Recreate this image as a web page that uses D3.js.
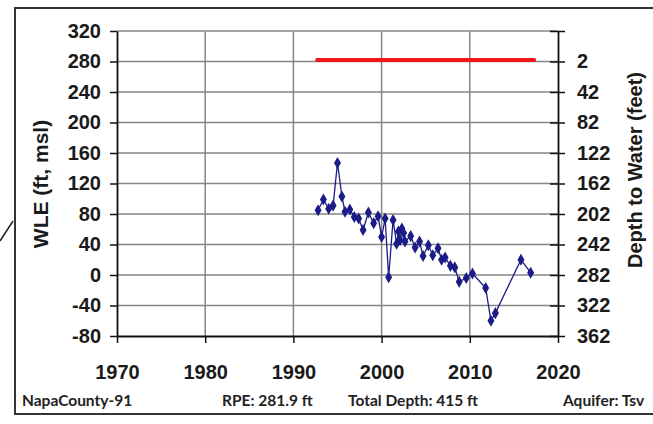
<!DOCTYPE html>
<html>
<head>
<meta charset="utf-8">
<script src="https://cdn.jsdelivr.net/npm/d3@7"></script>
<style>
  body { margin: 0; background: #fff; }
  svg { display: block; }
</style>
</head>
<body>
<svg id="chart" width="653" height="424"></svg>
<script>
(function () {
    'use strict';

    // well info
    var rpe = 281.9;
    var rpeYears = [1992.7, 2017.3];

    // measured water level elevation (ft, msl)
    var years = [1992.8, 1993.4, 1994.0, 1994.5, 1995.0, 1995.5, 1995.85, 1996.4, 1996.9, 1997.4,
                 1997.9, 1998.5, 1999.1, 1999.6, 2000.0, 2000.4, 2000.8, 2001.3, 2001.7, 2001.9,
                 2002.1, 2002.3, 2002.5, 2002.65, 2003.3, 2003.8, 2004.3, 2004.7, 2005.3, 2005.8,
                 2006.4, 2006.8, 2007.2, 2007.8, 2008.3, 2008.8, 2009.6, 2010.3, 2011.8, 2012.4,
                 2012.9, 2015.8, 2016.9];
    var wle = [85, 99, 87, 91, 147, 103, 83, 86, 76, 74,
               59, 82, 68, 77, 50, 74, -3, 72, 41, 57,
               46, 61, 55, 44, 51, 36, 44, 25, 39, 26,
               35, 20, 23, 12, 10, -9, -4, 2, -17, -60,
               -50, 20, 3];

    var xTicks = [1970, 1980, 1990, 2000, 2010, 2020];
    var yTicks = [320, 280, 240, 200, 160, 120, 80, 40, 0, -40, -80];

    var footer = ["NapaCounty-91", "RPE: 281.9 ft", "Total Depth: 415 ft", "Aquifer: Tsv"];

    var svg = d3.select("#chart");
    var left = 117, right = 558, top = 31, bottom = 336;

    var x = d3.scaleLinear().domain([1970, 2020]).range([left, right]);
    var y = d3.scaleLinear().domain([-80, 320]).range([bottom, top]);

    // outer frame
    svg.append("rect")
        .attr("x", 15).attr("y", 8)
        .attr("width", 660).attr("height", 406)
        .attr("fill", "none")
        .attr("stroke", "#333")
        .attr("stroke-width", 2);

    svg.append("line")
        .attr("x1", 0).attr("y1", 241)
        .attr("x2", 13).attr("y2", 221)
        .attr("stroke", "#222")
        .attr("stroke-width", 1.5);

    // grid
    var grid = svg.append("g");
    grid.selectAll(".vg")
        .data(xTicks.slice(1, -1))
        .enter().append("line")
        .attr("x1", function(d) { return x(d); })
        .attr("x2", function(d) { return x(d); })
        .attr("y1", top).attr("y2", bottom)
        .attr("stroke", "#858585").attr("stroke-width", 1.5);
    grid.selectAll(".hg")
        .data(yTicks.slice(0, -1))
        .enter().append("line")
        .attr("x1", left).attr("x2", right)
        .attr("y1", function(d) { return y(d); })
        .attr("y2", function(d) { return y(d); })
        .attr("stroke", "#858585").attr("stroke-width", 1.5);

    function styleAxis(g) {
        g.select(".domain").attr("stroke", "#111").attr("stroke-width", 1.8);
        g.selectAll(".tick line").attr("stroke", "#111").attr("stroke-width", 1.5);
        g.selectAll("text")
            .attr("fill", "#1a1a1a")
            .style("font-family", "'Liberation Sans', Arial, sans-serif")
            .style("font-weight", "bold")
            .style("font-size", "20px");
    }

    var plain = function(d) { return String(d); };

    svg.append("g")
        .attr("transform", "translate(0," + bottom + ")")
        .call(d3.axisBottom(x).tickValues(xTicks).tickFormat(plain)
            .tickSize(7).tickPadding(22).tickSizeOuter(0))
        .call(styleAxis);

    svg.append("g")
        .attr("transform", "translate(" + left + ",0)")
        .call(d3.axisLeft(y).tickValues(yTicks).tickFormat(plain)
            .tickSize(7).tickPadding(9).tickSizeOuter(0))
        .call(styleAxis);

    var rightAxis = svg.append("g")
        .attr("transform", "translate(" + right + ",0)")
        .call(d3.axisRight(y).tickValues(yTicks)
            .tickFormat(function(d) { return d > rpe ? "" : String(Math.round(rpe - d)); })
            .tickSize(7).tickPadding(12).tickSizeOuter(0))
        .call(styleAxis);
    rightAxis.selectAll(".tick line").attr("x1", -8);

    // axis titles
    svg.append("text")
        .attr("transform", "translate(48,184) rotate(-90)")
        .attr("text-anchor", "middle")
        .style("font-family", "'Liberation Sans', Arial, sans-serif")
        .style("font-weight", "bold")
        .style("font-size", "21px")
        .attr("fill", "#1a1a1a")
        .text("WLE (ft, msl)");

    svg.append("text")
        .attr("transform", "translate(642,170) rotate(-90)")
        .attr("text-anchor", "middle")
        .style("font-family", "'Liberation Sans', Arial, sans-serif")
        .style("font-weight", "bold")
        .style("font-size", "20px")
        .attr("fill", "#1a1a1a")
        .text("Depth to Water (feet)");

    // RPE line
    svg.append("line")
        .attr("x1", x(rpeYears[0])).attr("x2", x(rpeYears[1]))
        .attr("y1", y(rpe)).attr("y2", y(rpe))
        .attr("stroke", "#f01818")
        .attr("stroke-width", 4)
        .attr("stroke-linecap", "round");

    // water levels
    var data = years.map(function(d, i) { return {date: d, value: wle[i]}; });

    var line = d3.line()
        .x(function(d) { return x(d.date); })
        .y(function(d) { return y(d.value); });

    svg.append("path")
        .datum(data)
        .attr("fill", "none")
        .attr("stroke", "#1c1c86")
        .attr("stroke-width", 1.3)
        .attr("d", line);

    svg.selectAll(".pt")
        .data(data)
        .enter().append("path")
        .attr("transform", function(d) { return "translate(" + x(d.date) + "," + y(d.value) + ")"; })
        .attr("d", d3.symbol().type(d3.symbolDiamond).size(42))
        .attr("fill", "#1c1c86");

    // footer
    var footX = [22, 222, 348, 563];
    svg.selectAll(".foot")
        .data(footer)
        .enter().append("text")
        .attr("x", function(d, i) { return footX[i]; })
        .attr("y", 406)
        .style("font-family", "Lato, 'Open Sans', sans-serif")
        .style("font-weight", "bold")
        .style("font-size", "15.5px")
        .attr("fill", "#222")
        .text(function(d) { return d; });
})();
</script>
</body>
</html>
